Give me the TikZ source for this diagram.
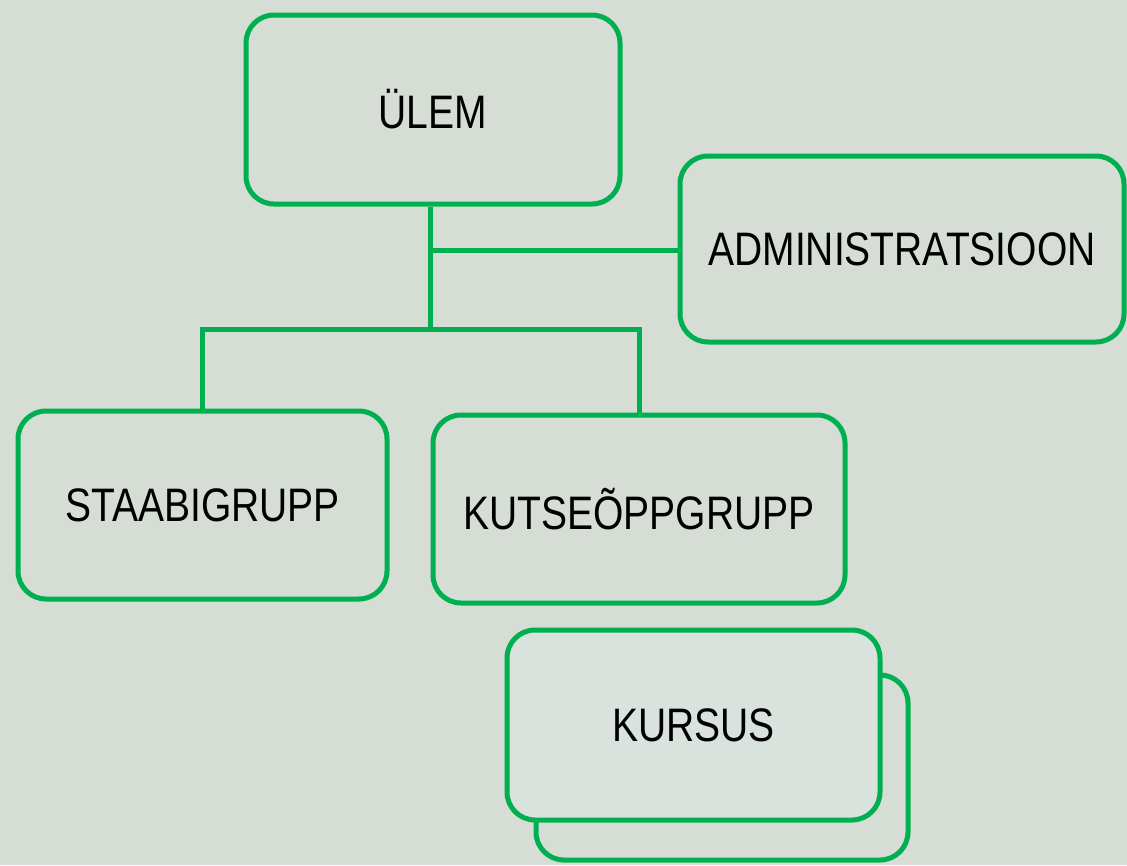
\documentclass[tikz,border=0pt]{standalone}
\usepackage{fontspec}
\setmainfont[FakeStretch=0.83]{Liberation Sans}
\definecolor{bg}{HTML}{D5DDD5}
\definecolor{ln}{HTML}{00B050}
\definecolor{fr}{HTML}{DAE2DD}
\begin{document}
\begin{tikzpicture}[x=1pt,y=-1pt,
  box/.style={draw=ln,line width=5pt,rounded corners=28pt,inner sep=0pt,
    font=\fontsize{47}{50}\selectfont,text=black},
  conn/.style={draw=ln,line width=5pt,line join=miter}]
\fill[bg] (0,0) rectangle (1127,865);
\useasboundingbox (0,0) rectangle (1127,865);
\node[box,minimum width=374pt,minimum height=189pt] (ulem) at (433,109.5) {ÜLEM};
\node[box,minimum width=444pt,minimum height=186pt] (admin) at (902,249) {ADMINISTRATSIOON};
\node[box,minimum width=369pt,minimum height=188pt] (staab) at (202.5,505) {STAABIGRUPP};
\node[box,minimum width=412pt,minimum height=188pt] (kutse) at (639,509) {KUTSEÕPPGRUPP};
\node[box,minimum width=372pt,minimum height=185pt] (kback) at (722,767.5) {};
\node[box,fill=fr,minimum width=373pt,minimum height=190pt] (kursus) at (693.5,725) {KURSUS};
\coordinate (j1) at (430,250);
\coordinate (j2) at (430,329);
\draw[conn] (j1 |- ulem.south) -- (j2);
\draw[conn] (j1) -- (j1 -| admin.west);
\draw[conn] (staab.north) |- (j2) -| (kutse.north);
\end{tikzpicture}
\end{document}
